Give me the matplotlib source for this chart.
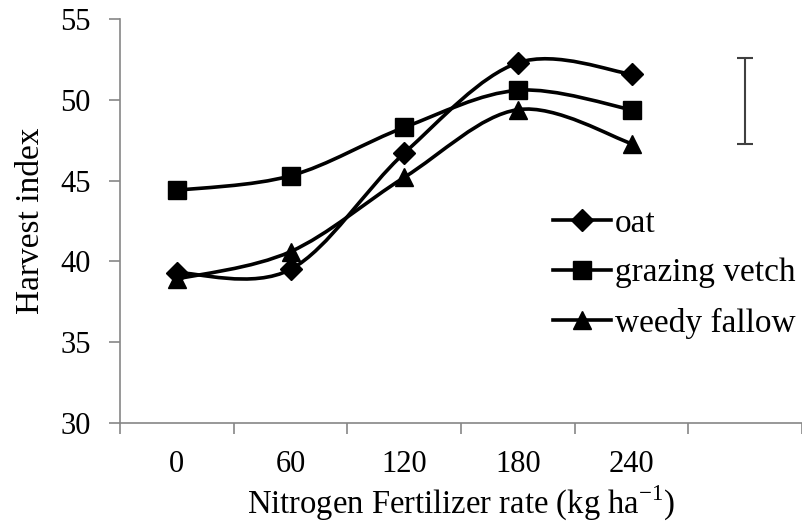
import numpy as np
import matplotlib
matplotlib.use("Agg")
import matplotlib.pyplot as plt
from matplotlib.path import Path
import matplotlib.patches as patches

plt.rcParams['font.family'] = ['Liberation Serif', 'DejaVu Serif']
plt.rcParams['mathtext.fontset'] = 'custom'
plt.rcParams['mathtext.rm'] = 'Liberation Serif'

categories = ['0', '60', '120', '180', '240']
oat = [39.3, 39.5, 46.7, 52.3, 51.6]
grazing_vetch = [44.4, 45.3, 48.3, 50.6, 49.4]
weedy_fallow = [38.9, 40.6, 45.2, 49.4, 47.3]
lsd_center = 49.95
lsd_half = 2.68


def smooth_path(xs, ys):
    # excel-like smoothed line: catmull-rom turned into cubic beziers
    pts = list(zip(xs, ys))
    verts = [pts[0]]
    codes = [Path.MOVETO]
    n = len(pts)
    for i in range(n - 1):
        p0 = pts[i - 1] if i > 0 else pts[i]
        p1 = pts[i]
        p2 = pts[i + 1]
        p3 = pts[i + 2] if i + 2 < n else pts[i + 1]
        c1 = (p1[0] + (p2[0] - p0[0]) / 6., p1[1] + (p2[1] - p0[1]) / 6.)
        c2 = (p2[0] - (p3[0] - p1[0]) / 6., p2[1] - (p3[1] - p1[1]) / 6.)
        verts += [c1, c2, p2]
        codes += [Path.CURVE4] * 3
    return Path(verts, codes)


fig = plt.figure(figsize=(8.02, 5.28), dpi=100)
ax = fig.add_axes([120 / 802., 1 - 422.7 / 528., 1 - 120 / 802., (422.7 - 19.3) / 528.])

x = np.arange(len(categories))
series = [(oat, 'D', 11, 'oat'),
          (grazing_vetch, 's', 13, 'grazing vetch'),
          (weedy_fallow, '^', 13, 'weedy fallow')]
for vals, mk, ms, name in series:
    ax.add_patch(patches.PathPatch(smooth_path(x, vals), facecolor='none',
                                   edgecolor='black', lw=2.6))
    ax.plot(x, vals, linestyle='none', marker=mk, markersize=ms, color='black')
    ax.plot([], [], color='black', lw=2.6, marker=mk, markersize=ms, label=name)

# LSD bar in the empty sixth slot
ax.errorbar([len(categories)], [lsd_center], yerr=[lsd_half], fmt='none',
            ecolor='#404040', elinewidth=1.5, capsize=5.5, capthick=1.5)

ax.set_xlim(-0.5, len(categories) + 0.5)
ax.set_ylim(30, 55)
ax.set_yticks(np.arange(30, 56, 5))
ax.set_xticks(np.arange(-0.5, len(categories) + 0.6, 1))
ax.set_xticklabels([])
ax.set_xticks(x, minor=True)
ax.set_xticklabels(categories, minor=True)

for s in ['top', 'right']:
    ax.spines[s].set_visible(False)
for s in ['left', 'bottom']:
    ax.spines[s].set_color('#868686')
    ax.spines[s].set_linewidth(1.2)

ax.tick_params(axis='both', which='major', direction='out', length=8,
               width=1.2, color='#868686', labelsize=22)
ax.tick_params(axis='y', pad=13)
ax.tick_params(axis='x', which='minor', length=0, pad=20, labelsize=22)

ax.set_ylabel('Harvest index', fontsize=24, labelpad=10)
ax.set_xlabel(r'Nitrogen Fertilizer rate (kg ha$^{\mathregular{-1}}$)',
              fontsize=23.5, labelpad=3)

ax.legend(loc='upper left', bbox_to_anchor=(553 / 802., 1 - 208 / 528.),
          bbox_transform=fig.transFigure, frameon=False, fontsize=24,
          handlelength=1.75, handletextpad=0.1, labelspacing=0.58,
          borderpad=0, borderaxespad=0)

fig.savefig('out.png', dpi=100)
